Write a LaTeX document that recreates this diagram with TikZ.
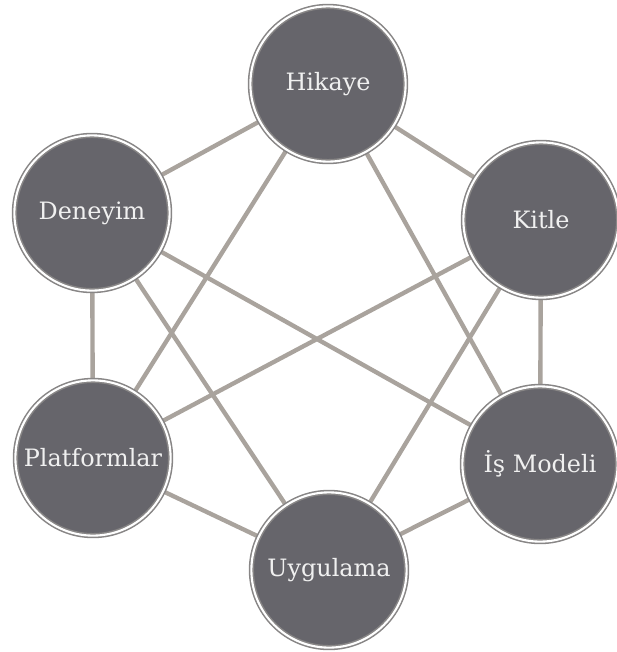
\documentclass[tikz,border=0pt]{standalone}
\usepackage{fontspec}
\setmainfont{DejaVu Serif}
\usepackage{xcolor}
\usetikzlibrary{backgrounds}

\definecolor{dugumrenk}{HTML}{66656B}
\definecolor{halkarenk}{HTML}{888686}
\definecolor{baglanti}{HTML}{A9A39D}

\begin{document}
\begin{tikzpicture}[x=0.025cm, y=-0.025cm,
    dugum/.style={circle, minimum size=3.88cm, inner sep=0pt, fill=dugumrenk,
        draw=halkarenk, line width=1.1pt, double=white, double distance=1.5pt,
        text=white!94!black, font=\fontsize{17}{20}\selectfont},
    cizgi/.style={baglanti, line width=3.1pt}]
    \useasboundingbox (0,0) rectangle (617,652);

    % 1. Düğümler
    \node[dugum] (hik) at (328,84)  {Hikaye};
    \node[dugum] (den) at (92,213)  {Deneyim};
    \node[dugum] (kit) at (541,220) {Kitle};
    \node[dugum] (pla) at (93,458)  {Platformlar};
    \node[dugum] (mod) at (540,464) {İş Modeli};
    \node[dugum] (uyg) at (329,570) {Uygulama};

    % 2. Bağlantılar
    \begin{scope}[on background layer]
        \foreach \a/\b in {hik/den, hik/kit, hik/pla, hik/mod,
                           den/pla, den/mod, den/uyg,
                           kit/pla, kit/uyg, kit/mod,
                           pla/uyg, uyg/mod} {
            \draw[cizgi] (\a.center) -- (\b.center);
        }
    \end{scope}
\end{tikzpicture}
\end{document}
